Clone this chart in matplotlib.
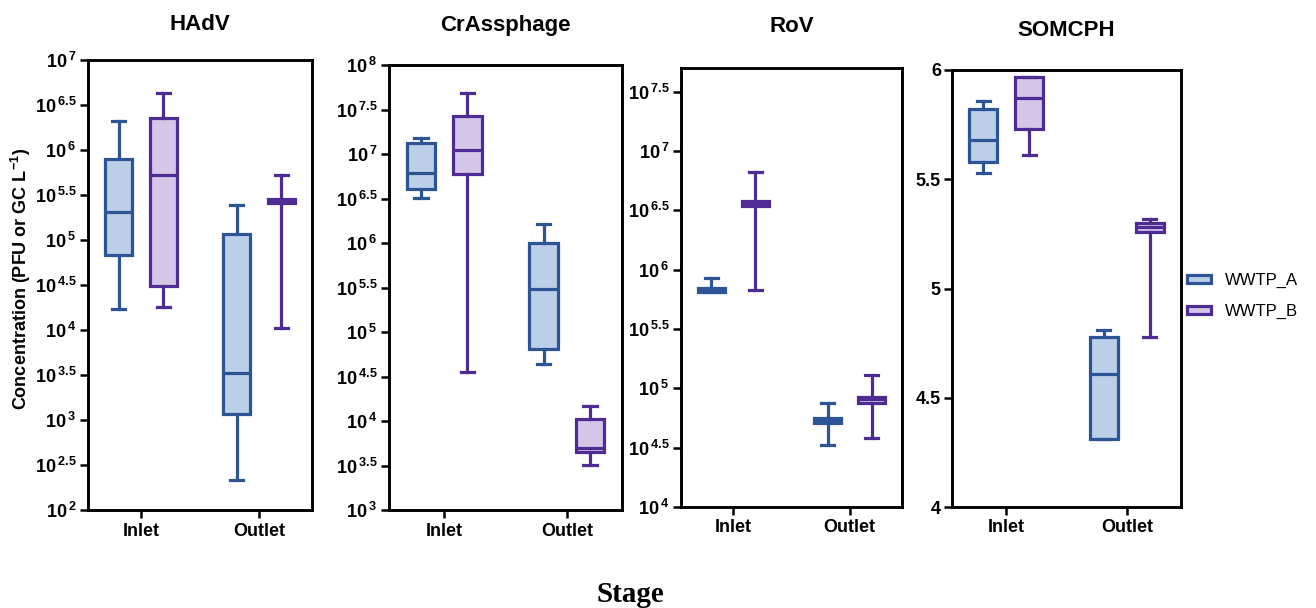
import numpy as np
import matplotlib
matplotlib.use("Agg")
import matplotlib.pyplot as plt
from matplotlib.patches import Patch

plt.rcParams['font.family'] = ['Liberation Sans', 'DejaVu Sans']
plt.rcParams['mathtext.fontset'] = 'custom'
plt.rcParams['mathtext.rm'] = 'Liberation Sans:bold'
plt.rcParams['mathtext.it'] = 'Liberation Sans:bold'
plt.rcParams['mathtext.bf'] = 'Liberation Sans:bold'

# ---- data (five-number summaries: whislo, q1, med, q3, whishi) ----
panels = ["HAdV", "CrAssphage", "RoV", "SOMCPH"]
stages = ["Inlet", "Outlet"]
plants = ["WWTP_A", "WWTP_B"]
log_scale = [True, True, True, False]

# values in log10 units for log panels, linear units for SOMCPH
hadv_A = [[4.23, 4.83, 5.31, 5.90, 6.32], [2.33, 3.07, 3.52, 5.07, 5.39]]
hadv_B = [[4.26, 4.49, 5.72, 6.36, 6.63], [4.02, 5.41, 5.43, 5.46, 5.72]]
crass_A = [[6.51, 6.61, 6.79, 7.12, 7.18], [4.64, 4.81, 5.48, 6.00, 6.21]]
crass_B = [[4.55, 6.78, 7.05, 7.43, 7.69], [3.51, 3.65, 3.70, 4.02, 4.17]]
rov_A = [[5.81, 5.81, 5.83, 5.85, 5.93], [4.52, 4.71, 4.73, 4.75, 4.88]]
rov_B = [[5.83, 6.54, 6.56, 6.58, 6.82], [4.58, 4.88, 4.91, 4.93, 5.11]]
som_A = [[5.53, 5.58, 5.68, 5.82, 5.86], [4.31, 4.31, 4.61, 4.78, 4.81]]
som_B = [[5.61, 5.73, 5.87, 5.97, 5.97], [4.78, 5.26, 5.28, 5.30, 5.32]]

series_A = [hadv_A, crass_A, rov_A, som_A]
series_B = [hadv_B, crass_B, rov_B, som_B]

y_ranges = [(2, 7), (3, 8), (4, 7.7), (4, 6)]
y_ticks = [np.arange(2, 7.01, 0.5), np.arange(3, 8.01, 0.5),
           np.arange(4, 7.51, 0.5), np.array([4, 4.5, 5, 5.5, 6])]

edge_A, fill_A = "#2D5596", "#BCCFE9"
edge_B, fill_B = "#4E2C93", "#D3C6E8"

# axes rectangles in pixels (left, right, top, bottom) and title centre heights
W, H = 1316, 608
rects = [(88, 312, 60, 510), (389, 622, 65, 510), (681, 902, 68, 507), (952, 1181, 70, 507)]
title_y = [24, 26, 26, 30]

fig = plt.figure(figsize=(W / 100, H / 100), dpi=100)

def fmt_label(v, is_log):
    if is_log:
        s = ("%g" % v)
        return r"$\mathbf{10}\,^{\mathbf{%s}}$" % s
    return "%g" % v

lw = 2.3
for i, name in enumerate(panels):
    l, r, t, b = rects[i]
    ax = fig.add_axes([l / W, 1 - b / H, (r - l) / W, (b - t) / H])
    is_log = log_scale[i]
    conv = (lambda v: 10 ** v) if is_log else (lambda v: v)
    for series, off, ec, fc in [(series_A[i], -0.19, edge_A, fill_A),
                                (series_B[i], 0.19, edge_B, fill_B)]:
        stats = []
        for s in series:
            lo, q1, med, q3, hi = [conv(v) for v in s]
            stats.append(dict(whislo=lo, q1=q1, med=med, q3=q3, whishi=hi, fliers=[]))
        ax.bxp(stats, positions=np.arange(len(stages)) + off, widths=0.23,
               patch_artist=True, showfliers=False, capwidths=0.11,
               boxprops=dict(facecolor=fc, edgecolor=ec, linewidth=lw),
               medianprops=dict(color=ec, linewidth=lw),
               whiskerprops=dict(color=ec, linewidth=lw),
               capprops=dict(color=ec, linewidth=lw))
    if is_log:
        ax.set_yscale('log')
        ax.set_ylim(10 ** y_ranges[i][0], 10 ** y_ranges[i][1])
        ax.set_yticks(10 ** y_ticks[i])
        ax.minorticks_off()
    else:
        ax.set_ylim(*y_ranges[i])
        ax.set_yticks(y_ticks[i])
    ax.set_yticklabels([fmt_label(v, is_log) for v in y_ticks[i]], fontsize=13, fontweight='bold')
    ax.set_xlim(-0.45, 1.45)
    ax.set_xticks(np.arange(len(stages)))
    ax.set_xticklabels(stages, fontsize=13, fontweight='bold')
    ax.tick_params(axis='both', width=1.8, length=6, pad=3)
    ax.tick_params(axis='y', pad=2)
    for sp in ax.spines.values():
        sp.set_linewidth(2.1)
    fig.text((l + r) / 2 / W, 1 - title_y[i] / H, name, fontsize=16, fontweight='bold',
             ha='center', va='center')

fig.text(21 / W, 1 - 279 / H, r"Concentration (PFU or GC L$^{\mathbf{-1}}$)", fontsize=13,
         fontweight='bold', rotation=90, ha='center', va='center')

handles = [Patch(facecolor=fill_A, edgecolor=edge_A, linewidth=2.3, label=plants[0]),
           Patch(facecolor=fill_B, edgecolor=edge_B, linewidth=2.3, label=plants[1])]
fig.legend(handles=handles, loc='center left', bbox_to_anchor=(1187 / W, 1 - 296 / H),
           frameon=False, fontsize=12, handlelength=1.45, handleheight=0.45,
           labelspacing=0.95, handletextpad=0.85, borderpad=0, borderaxespad=0)

fig.text(630 / W, 1 - 594 / H, "Stage", fontsize=21, fontweight='bold',
         family='Liberation Serif', ha='center', va='center')

fig.savefig("out.png", dpi=100)
